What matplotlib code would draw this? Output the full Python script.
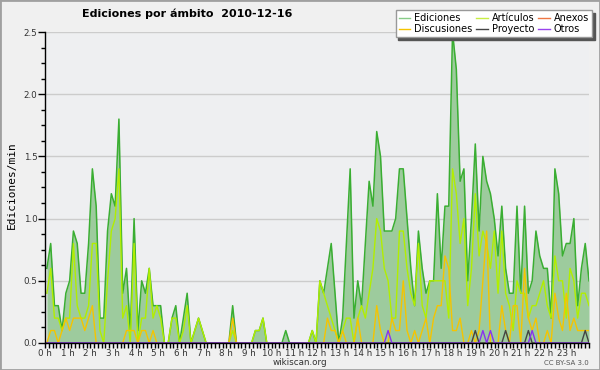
import numpy as np
import matplotlib
matplotlib.use("Agg")
import matplotlib.pyplot as plt
from matplotlib.patches import Rectangle

# ediciones por minuto, una muestra cada 10 minutos (144 por día)
ediciones = [
    0.6, 0.8, 0.3, 0.3, 0.1, 0.4, 0.5, 0.9, 0.8, 0.4, 0.4, 0.8,
    1.4, 1.1, 0.2, 0.2, 0.9, 1.2, 1.1, 1.8, 0.4, 0.6, 0.1, 1.0,
    0.1, 0.5, 0.4, 0.6, 0.3, 0.3, 0.3, 0.0, 0.0, 0.2, 0.3, 0.0,
    0.2, 0.4, 0.0, 0.1, 0.2, 0.1, 0.0, 0.0, 0.0, 0.0, 0.0, 0.0,
    0.0, 0.3, 0.0, 0.0, 0.0, 0.0, 0.0, 0.1, 0.1, 0.2, 0.0, 0.0,
    0.0, 0.0, 0.0, 0.1, 0.0, 0.0, 0.0, 0.0, 0.0, 0.0, 0.1, 0.0,
    0.5, 0.4, 0.6, 0.8, 0.4, 0.0, 0.2, 0.8, 1.4, 0.2, 0.5, 0.3,
    0.8, 1.3, 1.1, 1.7, 1.5, 0.9, 0.9, 0.9, 1.0, 1.4, 1.4, 1.0,
    0.6, 0.3, 0.9, 0.6, 0.4, 0.5, 0.5, 1.2, 0.6, 1.1, 1.1, 2.5,
    2.2, 1.3, 1.4, 0.5, 1.0, 1.6, 0.9, 1.5, 1.3, 1.2, 1.0, 0.7,
    1.1, 0.6, 0.4, 0.4, 1.1, 0.4, 1.1, 0.4, 0.5, 0.9, 0.7, 0.6,
    0.6, 0.2, 1.4, 1.2, 0.7, 0.8, 0.8, 1.0, 0.3, 0.6, 0.8, 0.5,
]
articulos = [
    0.4, 0.6, 0.2, 0.2, 0.1, 0.2, 0.2, 0.8, 0.3, 0.2, 0.2, 0.3,
    0.8, 0.8, 0.1, 0.0, 0.5, 0.9, 1.0, 1.4, 0.2, 0.3, 0.0, 0.8,
    0.0, 0.2, 0.2, 0.6, 0.2, 0.3, 0.2, 0.0, 0.0, 0.2, 0.2, 0.0,
    0.1, 0.3, 0.0, 0.1, 0.2, 0.1, 0.0, 0.0, 0.0, 0.0, 0.0, 0.0,
    0.0, 0.1, 0.0, 0.0, 0.0, 0.0, 0.0, 0.1, 0.1, 0.2, 0.0, 0.0,
    0.0, 0.0, 0.0, 0.0, 0.0, 0.0, 0.0, 0.0, 0.0, 0.0, 0.1, 0.0,
    0.5, 0.4, 0.3, 0.2, 0.1, 0.0, 0.1, 0.2, 0.2, 0.0, 0.2, 0.3,
    0.2, 0.4, 0.6, 1.0, 0.9, 0.6, 0.5, 0.2, 0.2, 0.9, 0.9, 0.6,
    0.4, 0.3, 0.8, 0.3, 0.2, 0.5, 0.5, 0.5, 0.5, 0.5, 0.2, 1.4,
    1.2, 0.8, 1.0, 0.3, 0.6, 1.2, 0.7, 0.9, 0.8, 0.6, 0.9, 0.4,
    0.9, 0.4, 0.3, 0.1, 0.5, 0.4, 0.4, 0.2, 0.3, 0.3, 0.4, 0.5,
    0.3, 0.2, 0.7, 0.5, 0.5, 0.2, 0.6, 0.5, 0.2, 0.4, 0.4, 0.3,
]
discusiones = [
    0.0, 0.1, 0.1, 0.0, 0.1, 0.2, 0.1, 0.2, 0.2, 0.2, 0.1, 0.2,
    0.3, 0.0, 0.0, 0.0, 0.0, 0.0, 0.0, 0.0, 0.0, 0.1, 0.1, 0.1,
    0.0, 0.1, 0.1, 0.0, 0.1, 0.0, 0.0, 0.0, 0.0, 0.0, 0.0, 0.0,
    0.0, 0.0, 0.0, 0.0, 0.0, 0.0, 0.0, 0.0, 0.0, 0.0, 0.0, 0.0,
    0.0, 0.2, 0.0, 0.0, 0.0, 0.0, 0.0, 0.0, 0.0, 0.0, 0.0, 0.0,
    0.0, 0.0, 0.0, 0.0, 0.0, 0.0, 0.0, 0.0, 0.0, 0.0, 0.0, 0.0,
    0.0, 0.0, 0.2, 0.1, 0.1, 0.0, 0.1, 0.0, 0.0, 0.0, 0.2, 0.0,
    0.0, 0.0, 0.0, 0.3, 0.1, 0.0, 0.0, 0.2, 0.1, 0.1, 0.5, 0.1,
    0.0, 0.1, 0.0, 0.1, 0.2, 0.0, 0.2, 0.3, 0.3, 0.7, 0.6, 0.1,
    0.1, 0.2, 0.0, 0.0, 0.1, 0.0, 0.1, 0.5, 0.9, 0.0, 0.0, 0.0,
    0.3, 0.1, 0.0, 0.3, 0.3, 0.0, 0.6, 0.2, 0.1, 0.2, 0.0, 0.0,
    0.1, 0.0, 0.4, 0.2, 0.1, 0.4, 0.1, 0.2, 0.1, 0.1, 0.1, 0.1,
]
# series casi vacías: índice de muestra -> valor
proyecto_pts = {113: 0.1, 121: 0.1, 127: 0.1, 142: 0.1}
otros_pts = {90: 0.1, 115: 0.1, 117: 0.1, 128: 0.1}
anexos_pts = {}

n = len(ediciones)
horas = np.linspace(5 / 60, 24, n)


def serie(pts):
    v = np.zeros(n)
    for k, val in pts.items():
        v[k] = val
    return v


proyecto = serie(proyecto_pts)
otros = serie(otros_pts)
anexos = serie(anexos_pts)

fig = plt.figure(figsize=(6, 3.7), dpi=100, facecolor='#f0f0f0')
fig.patches.append(Rectangle((0, 0), 1, 1, transform=fig.transFigure,
                             fill=False, edgecolor='#a0a0a0', lw=2))
ax = fig.add_axes([0.075, 0.073, 0.9067, 0.8405], facecolor='#eeeff1')

ax.fill_between(horas, ediciones, color='#9dcb9d', lw=0)
ax.plot(horas, ediciones, color='#3aae32', lw=1.1)
ax.plot(horas, articulos, color='#b2ee00', lw=1)
ax.plot(horas, anexos, color='#ee7744', lw=1)
ax.plot(horas, discusiones, color='#f5c400', lw=1)
ax.plot(horas, proyecto, color='#444444', lw=1)
ax.plot(horas, otros, color='#8833ee', lw=1)

ax.set_xlim(0, 24)
ax.set_ylim(0, 2.5)
ax.set_xticks(range(25))
ax.set_xticklabels([f"{h} h" for h in range(24)] + [""])
ax.set_xticks(np.arange(0, 24.01, 1 / 6), minor=True)
ax.set_yticks(np.arange(0, 2.51, 0.5))
ax.set_yticklabels([f"{v:.1f}" for v in np.arange(0, 2.51, 0.5)])
ax.set_yticks(np.arange(0, 2.51, 0.125), minor=True)
ax.tick_params(which='both', direction='out', width=1, color='black',
               labelsize=6.3, labelcolor='#333333', pad=0.5)
ax.tick_params(axis='x', which='both', length=3.5)
ax.tick_params(axis='y', which='major', length=5)
ax.tick_params(axis='y', which='minor', length=3)

ax.yaxis.grid(True, color='#cccccc', lw=1)
ax.set_axisbelow(True)
for s in ['top', 'right']:
    ax.spines[s].set_visible(False)
for s in ['left', 'bottom']:
    ax.spines[s].set_color('black')
    ax.spines[s].set_linewidth(1)

fig.text(0.3125, 0.963, 'Ediciones por ámbito  2010-12-16',
         ha='center', va='center', fontsize=8, fontweight='bold')
fig.text(0.02, 0.5, 'Ediciones/min', rotation=90, ha='center', va='center',
         family='DejaVu Sans Mono', fontsize=8)
fig.text(0.5, 0.019, 'wikiscan.org', ha='center', va='center',
         fontsize=6.3, color='#333333')
fig.text(0.982, 0.019, 'CC BY-SA 3.0', ha='right', va='center',
         fontsize=5, color='#555555')

# leyenda (orden por columnas)
etiquetas = ['Ediciones', 'Discusiones', 'Artículos', 'Proyecto', 'Anexos', 'Otros']
colores = ['#88cc88', '#f5c400', '#c8ee44', '#444444', '#ee7744', '#9944ee']
handles = [plt.Line2D([], [], color=c, lw=1) for c in colores]
fig.legend(handles, etiquetas, ncol=3, loc='upper right',
           bbox_to_anchor=(592 / 600, 1 - 10 / 370), fontsize=7,
           frameon=True, fancybox=False, edgecolor='#999999',
           facecolor='white', framealpha=1, handlelength=1.2,
           handletextpad=0.4, columnspacing=0.4, borderpad=0.3,
           labelspacing=0.12, borderaxespad=0,
           shadow={'color': '#555555', 'alpha': 1})

fig.savefig('out.png', dpi=100, facecolor=fig.get_facecolor())
